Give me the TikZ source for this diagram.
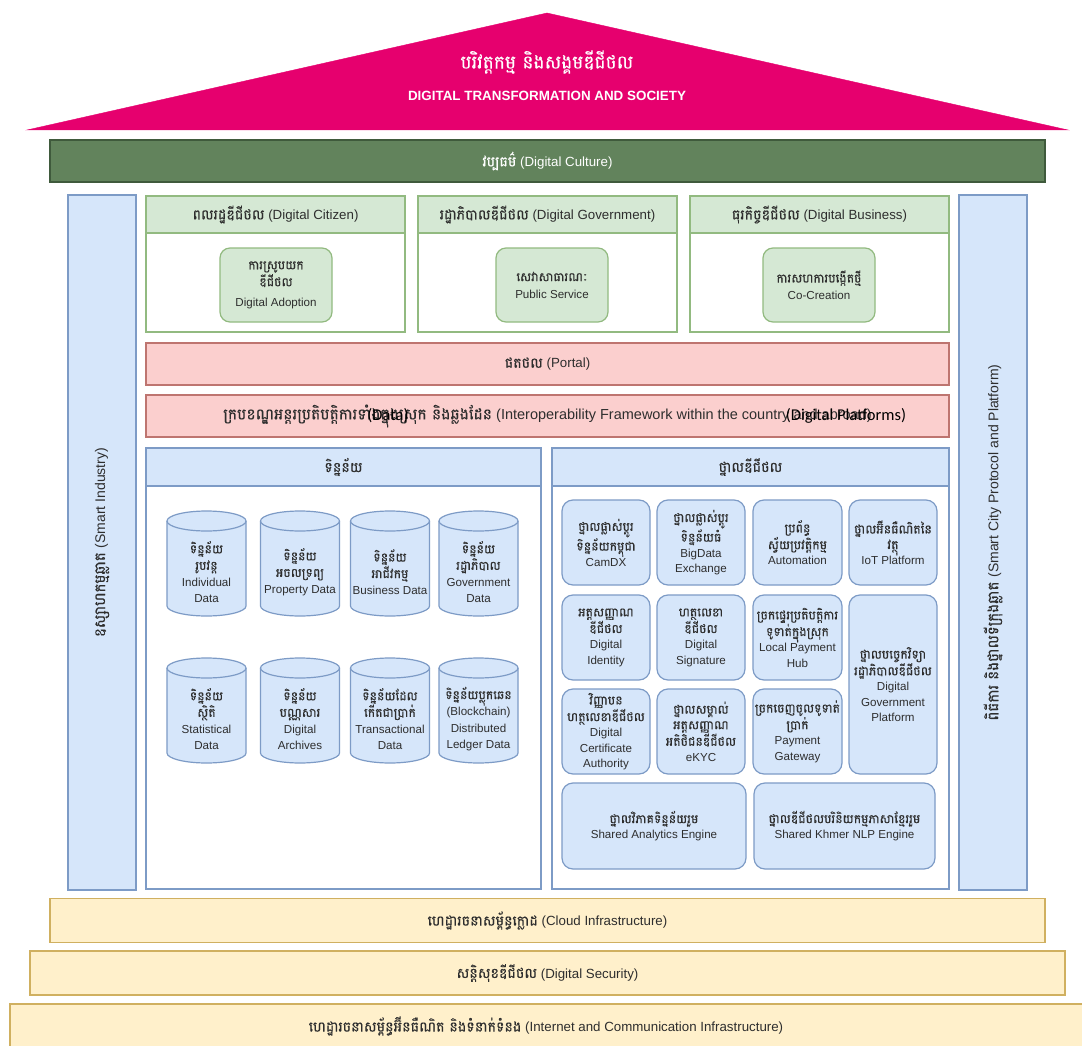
\documentclass[tikz,border=0pt]{standalone}
\usepackage{fontspec}
\setmainfont{Liberation Sans}
\newfontfamily\kh[Script=Khmer,Scale=1.07,FakeBold=0.35]{Battambang}
\newfontfamily\calib{Carlito}
\definecolor{roofpink}{HTML}{E6006E}
\definecolor{culturegreen}{HTML}{62835C}
\definecolor{culturedark}{HTML}{3F5A3C}
\definecolor{greenfill}{HTML}{D5E8D4}
\definecolor{greenline}{HTML}{92BA80}
\definecolor{bluefill}{HTML}{D6E6FA}
\definecolor{blueline}{HTML}{7D9BC6}
\definecolor{redfill}{HTML}{FBCFCE}
\definecolor{redline}{HTML}{BE7570}
\definecolor{yellowfill}{HTML}{FFF0CB}
\definecolor{yellowline}{HTML}{D0B060}
\definecolor{inktext}{HTML}{2E2E2E}
\begin{document}
\begin{tikzpicture}[
    x=1pt, y=-1pt,
    wh/.style 2 args={minimum width=#1pt, minimum height=#2pt},
    basebox/.style={draw, line width=1.2pt, inner sep=0pt, align=center, text=inktext, font=\fontsize{13.3}{17}\selectfont},
    greenhead/.style={basebox, draw=greenline, fill=greenfill},
    greenbody/.style={basebox, draw=greenline, fill=white},
    greeninner/.style={basebox, draw=greenline, fill=greenfill, rounded corners=10pt, font=\fontsize{11.6}{17}\selectfont},
    bluebox/.style={basebox, draw=blueline, fill=bluefill},
    bluebody/.style={basebox, draw=blueline, fill=white},
    redbox/.style={basebox, draw=redline, fill=redfill},
    yellowbox/.style={basebox, draw=yellowline, fill=yellowfill},
    platbox/.style={basebox, draw=blueline, fill=bluefill, rounded corners=11pt, font=\fontsize{11.6}{15.5}\selectfont},
    cyllabel/.style={inner sep=0pt, align=center, text=inktext, font=\fontsize{11.6}{16.5}\selectfont},
    datacan/.pic={
        \draw[line width=1.2pt, draw=blueline, fill=bluefill] (-39.5,42.5) arc[start angle=180, end angle=360, x radius=39.5pt, y radius=10pt]
            -- (39.5,-42.5) arc[start angle=0, end angle=180, x radius=39.5pt, y radius=10pt] -- cycle;
        \draw[line width=1.2pt, draw=blueline] (-39.5,-42.5) arc[start angle=180, end angle=360, x radius=39.5pt, y radius=10pt];
    },
]
\useasboundingbox (0,0) rectangle (1082,1046);

% === Roof ===
\draw[fill=roofpink, draw=roofpink] (27,130) -- (547,13) -- (1068,130) -- cycle;
\node[text=white, font=\fontsize{17.4}{20}\selectfont] (rooftitle) at (547,62) {\kh បរិវត្តកម្ម និងសង្គមឌីជីថល};
\node[text=white, font=\fontsize{13.4}{15}\selectfont\bfseries] (roofsub) at (547,96) {DIGITAL TRANSFORMATION AND SOCIETY};

% === Culture band ===
\node[basebox, draw=culturedark, fill=culturegreen, text=white, wh={995}{42}] (culture) at (547.5,161) {{\kh វប្បធម៌} (Digital Culture)};

% === Side columns ===
\node[bluebox, rotate=90, wh={695}{68}, font=\fontsize{14}{17}\selectfont] (industry) at (102,542.5) {{\kh ឧស្សាហកម្មឆ្លាត} (Smart Industry)};
\node[bluebox, rotate=90, wh={695}{68}, font=\fontsize{14}{17}\selectfont] (smartcity) at (993,542.5) {{\kh ពិធីការ និងថ្នាលទីក្រុងឆ្លាត} (Smart City Protocol and Platform)};

% === Top cards ===
\node[greenbody, wh={259}{99}] (citizenbody) at (275.5,282.5) {};
\node[greenbody, wh={259}{99}] (govbody) at (547.5,282.5) {};
\node[greenbody, wh={259}{99}] (bizbody) at (819.5,282.5) {};
\node[greenhead, wh={259}{37}] (citizen) at (275.5,214.5) {{\kh ពលរដ្ឋឌីជីថល} (Digital Citizen)};
\node[greenhead, wh={259}{37}] (gov) at (547.5,214.5) {{\kh រដ្ឋាភិបាលឌីជីថល} (Digital Government)};
\node[greenhead, wh={259}{37}] (biz) at (819.5,214.5) {{\kh ធុរកិច្ចឌីជីថល} (Digital Business)};
\node[greeninner, wh={112}{74}] (adoption) at (276,285) {{\kh ការស្រូបយក}\\{\kh ឌីជីថល}\\[3pt]Digital Adoption};
\node[greeninner, wh={112}{74}] (service) at (552,285) {{\kh សេវាសាធារណៈ}\\Public Service};
\node[greeninner, wh={112}{74}] (cocreation) at (819,285) {{\kh ការសហការបង្កើតថ្មី}\\Co-Creation};

% === Portal and interoperability ===
\node[redbox, wh={803}{42}] (portal) at (547.5,364) {{\kh ផតថល} (Portal)};
\node[redbox, wh={803}{42}, font=\fontsize{14.5}{17}\selectfont] (interop) at (547.5,416) {{\kh ក្របខណ្ឌអន្តរប្រតិបត្តិការទាំងក្នុងស្រុក និងឆ្លងដែន} (Interoperability Framework within the country and abroad)};
\node[font=\calib\fontsize{16.5}{18}\selectfont] (dataover) at (388,416) {(Data)};
\node[font=\calib\fontsize{16.5}{18}\selectfont] (platover) at (846,416) {(Digital Platforms)};

% === Data panel ===
\node[bluebody, wh={395}{403}] (databody) at (343.5,687.5) {};
\node[bluebox, wh={395}{38}] (datahead) at (343.5,467) {\kh ទិន្នន័យ};
\pic at (206.5,563.5) {datacan};
\pic at (300,563.5) {datacan};
\pic at (390,563.5) {datacan};
\pic at (478.5,563.5) {datacan};
\pic at (206.5,710.5) {datacan};
\pic at (300,710.5) {datacan};
\pic at (390,710.5) {datacan};
\pic at (478.5,710.5) {datacan};
\node[cyllabel] (individual) at (206.5,572) {{\kh ទិន្នន័យ}\\{\kh រូបវន្ត}\\Individual\\Data};
\node[cyllabel] (property) at (300,572) {{\kh ទិន្នន័យ}\\{\kh អចលទ្រព្យ}\\Property Data};
\node[cyllabel] (business) at (390,572) {{\kh ទិន្នន័យ}\\{\kh អាជីវកម្ម}\\Business Data};
\node[cyllabel] (government) at (478.5,572) {{\kh ទិន្នន័យ}\\{\kh រដ្ឋាភិបាល}\\Government\\Data};
\node[cyllabel] (statistical) at (206.5,719) {{\kh ទិន្នន័យ}\\{\kh ស្ថិតិ}\\Statistical\\Data};
\node[cyllabel] (archives) at (300,719) {{\kh ទិន្នន័យ}\\{\kh បណ្ណសារ}\\Digital\\Archives};
\node[cyllabel] (transactional) at (390,719) {{\kh ទិន្នន័យដែល}\\{\kh កើតជាប្រាក់}\\Transactional\\Data};
\node[cyllabel] (ledger) at (478.5,719) {{\kh ទិន្នន័យប្លុកឆេន}\\(Blockchain)\\Distributed\\Ledger Data};

% === Digital platforms panel ===
\node[bluebody, wh={397}{403}] (platbody) at (750.5,687.5) {};
\node[bluebox, wh={397}{38}] (plathead) at (750.5,467) {\kh ថ្នាលឌីជីថល};
% Row 1
\node[platbox, wh={88}{85}] (camdx) at (606,542.5) {{\kh ថ្នាលផ្លាស់ប្តូរ}\\{\kh ទិន្នន័យកម្ពុជា}\\CamDX};
\node[platbox, wh={88}{85}] (bigdata) at (701,542.5) {{\kh ថ្នាលផ្លាស់ប្តូរ}\\{\kh ទិន្នន័យធំ}\\BigData\\Exchange};
\node[platbox, wh={89}{85}] (automation) at (797.5,542.5) {{\kh ប្រព័ន្ធ}\\{\kh ស្វ័យប្រវត្តិកម្ម}\\Automation};
\node[platbox, wh={88}{85}] (iot) at (893,542.5) {{\kh ថ្នាលអ៊ីនធឺណិតនៃ}\\{\kh វត្ថុ}\\IoT Platform};
% Row 2
\node[platbox, wh={88}{85}] (identity) at (606,637.5) {{\kh អត្តសញ្ញាណ}\\{\kh ឌីជីថល}\\Digital\\Identity};
\node[platbox, wh={88}{85}] (signature) at (701,637.5) {{\kh ហត្ថលេខា}\\{\kh ឌីជីថល}\\Digital\\Signature};
\node[platbox, wh={89}{85}] (localpay) at (797.5,637.5) {{\kh ច្រកផ្ទេរប្រតិបត្តិការ}\\{\kh ទូទាត់ក្នុងស្រុក}\\Local Payment\\Hub};
\node[platbox, wh={88}{179}] (govplat) at (893,684.5) {{\kh ថ្នាលបច្ចេកវិទ្យា}\\{\kh រដ្ឋាភិបាលឌីជីថល}\\Digital\\Government\\Platform};
% Row 3
\node[platbox, wh={88}{85}] (certauth) at (606,731.5) {{\kh វិញ្ញាបន}\\{\kh ហត្ថលេខាឌីជីថល}\\Digital\\Certificate\\Authority};
\node[platbox, wh={88}{85}] (ekyc) at (701,731.5) {{\kh ថ្នាលសម្គាល់}\\{\kh អត្តសញ្ញាណ}\\{\kh អតិថិជនឌីជីថល}\\eKYC};
\node[platbox, wh={89}{85}] (gateway) at (797.5,731.5) {{\kh ច្រកចេញចូលទូទាត់}\\{\kh ប្រាក់}\\Payment\\Gateway};
% Row 4
\node[platbox, wh={184}{86}] (analytics) at (654,826) {{\kh ថ្នាលវិភាគទិន្នន័យរួម}\\Shared Analytics Engine};
\node[platbox, wh={181}{86}] (nlp) at (844.5,826) {{\kh ថ្នាលឌីជីថលបរិនិយកម្មភាសាខ្មែររួម}\\Shared Khmer NLP Engine};

% === Foundation bars ===
\node[yellowbox, wh={995}{44}] (cloud) at (547.5,920.5) {{\kh ហេដ្ឋារចនាសម្ព័ន្ធក្លោដ} (Cloud Infrastructure)};
\node[yellowbox, wh={1035}{44}] (security) at (547.5,973) {{\kh សន្តិសុខឌីជីថល} (Digital Security)};
\node[yellowbox, wh={1080}{43}] (internet) at (550,1025.5) {};
\node[text=inktext, font=\fontsize{13.3}{17}\selectfont] (internetlabel) at (546,1026) {{\kh ហេដ្ឋារចនាសម្ព័ន្ធអ៊ីនធឺណិត និងទំនាក់ទំនង} (Internet and Communication Infrastructure)};

\end{tikzpicture}
\end{document}
